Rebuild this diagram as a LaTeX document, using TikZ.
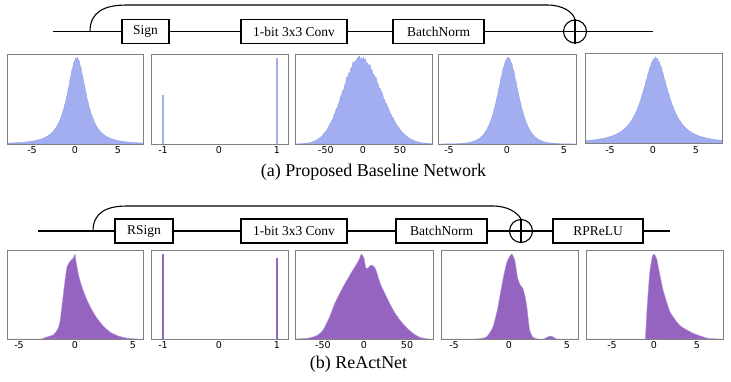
\documentclass[tikz,border=0pt]{standalone}
\usepackage{fontspec}
\setmainfont{Liberation Serif}
\newfontfamily\tickfont{DejaVu Sans}
\definecolor{histA}{RGB}{162,174,239}
\definecolor{histAe}{RGB}{145,160,234}
\definecolor{histB}{RGB}{148,100,192}
\definecolor{histBe}{RGB}{185,155,220}
\definecolor{frameC}{RGB}{128,128,128}
\tikzset{
  blk/.style={draw=black, line width=1.1pt, minimum height=24pt, inner sep=0pt, font=\fontsize{13.5}{14}\selectfont},
  addn/.style={draw=black, line width=1.1pt, circle, minimum size=23pt, inner sep=0pt},
  wire/.style={line width=1.1pt},
  pframe/.style={draw=frameC, line width=0.9pt},
  tick/.style={font=\tickfont\fontsize{9.5}{10}\selectfont, inner sep=0pt},
  capt/.style={font=\fontsize{18}{20}\selectfont, inner sep=0pt},
  fa/.style={fill=histA, draw=histAe, line width=0.4pt},
  fb/.style={fill=histB, draw=histBe, line width=0.4pt},
}
\begin{document}
\begin{tikzpicture}[x=1pt,y=-1pt]
\useasboundingbox[fill=white] (0,0) rectangle (731,381);

% ---------------- (a) diagram ----------------
\coordinate (in1) at (53,31.5);
\coordinate (out1) at (653,31.5);
\coordinate (s1) at (90,31.5);
\node[blk, minimum width=47pt] (sign) at (145.5,31.5) {Sign};
\node[blk, minimum width=106pt] (conv1) at (294,31.5) {1-bit 3x3 Conv};
\node[blk, minimum width=91pt] (bn1) at (438.5,31.5) {BatchNorm};
\node[addn] (add1) at (575,31.5) {};
\draw[wire] (add1.north) -- (add1.south) (add1.west) -- (add1.east);
\draw[wire] (in1) -- (sign.west) (sign.east) -- (conv1.west) (conv1.east) -- (bn1.west) (bn1.east) -- (add1.west) (add1.east) -- (out1);
\draw[wire] (s1) .. controls (90,12) and (104,5) .. (127,5) -- (547,5) .. controls (563,5) and (573,12) .. (add1.north);

% ---------------- (a) histograms ----------------
% panel 1
\begin{scope}
\clip (7,54) rectangle (143,144);
\begin{scope}[shift={(75,144)}, x=8.6pt, y=86pt]
\filldraw[fa] (-8,0) -- plot[domain=-8:8, samples=200] (\x, {(1+0.015*sin(1700*\x))/(1+((\x-0.2)/1.6)^2)^1.4}) -- (8,0) -- cycle;
\end{scope}
\end{scope}
\draw[pframe] (7,54) rectangle (143,144);
% panel 2
\fill[histA] (162.2,144) rectangle (163.9,95);
\fill[histA] (276.2,144) rectangle (277.9,58);
\draw[pframe] (151,54) rectangle (288,144);
% panel 3 (x in units of 10)
\begin{scope}
\clip (295,54) rectangle (432,144);
\begin{scope}[shift={(363,144)}, x=7.6pt, y=86pt]
\filldraw[fa] (-9,0) -- plot[domain=-9:9, samples=220] (\x, {(1+0.02*sin(1300*\x)+0.015*sin(470*\x))*((\x<-0.4)*exp(-(\x+0.4)^2/(2*2.3^2)) + (\x>=-0.4)*exp(-(\x+0.4)^2/(2*2.8^2)))}) -- (9,0) -- cycle;
\end{scope}
\end{scope}
\draw[pframe] (295,54) rectangle (432,144);
% panel 4
\begin{scope}
\clip (438,54) rectangle (576,144);
\begin{scope}[shift={(507,144)}, x=11.5pt, y=86pt]
\filldraw[fa] (-6,0) -- plot[domain=-6:6, samples=200] (\x, {(1+0.015*sin(1900*\x))/(cosh(1.0*(\x-0.1)))^1.5}) -- (6,0) -- cycle;
\end{scope}
\end{scope}
\draw[pframe] (438,54) rectangle (576,144);
% panel 5
\begin{scope}
\clip (585,53) rectangle (722,143);
\begin{scope}[shift={(653,143)}, x=8.6pt, y=85pt]
\filldraw[fa] (-8,0) -- plot[domain=-8:8, samples=200] (\x, {(1+0.012*sin(1600*\x))/(1+((\x-0.3)/2.1)^2)^1.3}) -- (8,0) -- cycle;
\end{scope}
\end{scope}
\draw[pframe] (585,53) rectangle (722,143);

% ticks (a)
\foreach \p/\t in {32/-5,75/0,118/5, 163/-1,219/0,277/1, 326/-50,363/0,400/50, 449/-5,507/0,564/5, 610/-5,653/0,696/5}
  \node[tick] at (\p,150.5) {\t};
\node[capt] (capa) at (373.5,172.5) {(a) Proposed Baseline Network};

% ---------------- (b) diagram ----------------
\coordinate (in2) at (38,231);
\coordinate (out2) at (670,231);
\coordinate (s2) at (93,231);
\node[blk, minimum width=58pt] (rsign) at (144,231) {RSign};
\node[blk, minimum width=106pt] (conv2) at (294,231) {1-bit 3x3 Conv};
\node[blk, minimum width=91pt] (bn2) at (441.5,231) {BatchNorm};
\node[addn] (add2) at (521,231) {};
\node[blk, minimum width=90pt] (rprelu) at (598,231) {RPReLU};
\draw[wire] (add2.north) -- (add2.south) (add2.west) -- (add2.east);
\draw[wire] (in2) -- (rsign.west) (rsign.east) -- (conv2.west) (conv2.east) -- (bn2.west) (bn2.east) -- (add2.west) (add2.east) -- (rprelu.west) (rprelu.east) -- (out2);
\draw[wire] (s2) .. controls (93,213) and (106,206) .. (127,206) -- (493,206) .. controls (507,206) and (517,212) .. (add2.north);

% ---------------- (b) histograms ----------------
% panel 1
\begin{scope}
\clip (7,250) rectangle (143,339);
\begin{scope}[shift={(75,339)}, x=11.4pt, y=85pt]
\filldraw[fb] plot[smooth, tension=0.3] coordinates {(-6,0)(-3,0)(-2.8,0.01)(-1.9,0.05)(-1.5,0.12)(-1.3,0.22)(-1.05,0.5)(-0.85,0.72)(-0.7,0.85)(-0.4,0.92)(-0.15,0.95)(0,1.0)(0.08,0.92)(0.3,0.76)(0.5,0.66)(0.75,0.56)(1.05,0.46)(1.45,0.35)(1.9,0.25)(2.5,0.15)(3.1,0.08)(3.8,0.035)(4.6,0.01)(5.5,0)(6,0)} -- cycle;
\end{scope}
\end{scope}
\draw[pframe] (7,250) rectangle (143,339);
% panel 2
\fill[histB] (162.3,339) rectangle (163.9,254);
\fill[histB] (276.2,339) rectangle (277.8,258);
\draw[pframe] (151,250) rectangle (288,339);
% panel 3
\begin{scope}
\clip (295,250) rectangle (433,339);
\begin{scope}[shift={(364,339)}, x=0.86pt, y=85pt]
\filldraw[fb] plot[smooth, tension=0.35] coordinates {(-80,0)(-65,0.01)(-55,0.04)(-48,0.1)(-40,0.26)(-34,0.42)(-25,0.6)(-16,0.76)(-10,0.86)(-6,0.93)(-3,1.0)(0,0.95)(2,0.84)(4,0.83)(8,0.87)(12,0.85)(15,0.78)(19,0.65)(26,0.5)(34,0.34)(42,0.22)(50,0.13)(58,0.06)(65,0.02)(75,0)(80,0)} -- cycle;
\end{scope}
\end{scope}
\draw[pframe] (295,250) rectangle (433,339);
% panel 4
\begin{scope}
\clip (441,250) rectangle (578,339);
\begin{scope}[shift={(509,339)}, x=11.5pt, y=85pt]
\filldraw[fb] plot[smooth, tension=0.3] coordinates {(-6,0)(-3,0)(-2.3,0.01)(-1.9,0.03)(-1.4,0.14)(-1.0,0.35)(-0.8,0.5)(-0.5,0.72)(-0.2,0.9)(0.1,0.98)(0.25,1.0)(0.5,0.93)(0.75,0.72)(1.0,0.63)(1.2,0.6)(1.4,0.5)(1.55,0.38)(1.8,0.1)(2.1,0.02)(2.5,0)(3.0,0)(3.3,0.02)(3.6,0.035)(3.9,0.02)(4.2,0)(6,0)} -- cycle;
\end{scope}
\end{scope}
\draw[pframe] (441,250) rectangle (578,339);
% panel 5
\begin{scope}
\clip (586,250) rectangle (723,339);
\begin{scope}[shift={(654,339)}, x=8.6pt, y=85pt]
\filldraw[fb] plot[smooth, tension=0.3] coordinates {(-8,0)(-1.3,0)(-1.0,0.03)(-0.8,0.38)(-0.5,0.78)(-0.2,0.97)(0,1.0)(0.3,0.95)(0.5,0.85)(1.05,0.58)(1.86,0.32)(3,0.16)(4.5,0.07)(6.2,0.01)(7.5,0)(8,0)} -- cycle;
\end{scope}
\end{scope}
\draw[pframe] (586,250) rectangle (723,339);

% ticks (b)
\foreach \p/\t in {19/-5,75/0,133/5, 163/-1,219/0,277/1, 323/-50,364/0,407/50, 454/-5,509/0,567/5, 612/-5,654/0,697/5}
  \node[tick] at (\p,345) {\t};
\node[capt] (capb) at (358.5,364.5) {(b) ReActNet};
\end{tikzpicture}
\end{document}
